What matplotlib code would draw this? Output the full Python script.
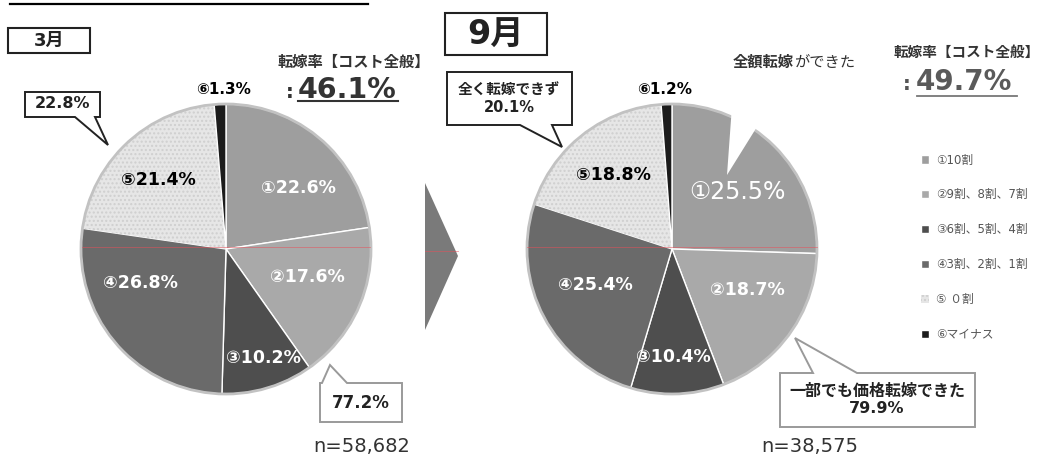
import matplotlib
matplotlib.use("Agg")
import matplotlib.pyplot as plt
from matplotlib.patches import Polygon, Rectangle, Circle

plt.rcParams['font.family'] = ['DejaVu Sans', 'Noto Sans CJK JP']

# data
marks = ['①', '②', '③', '④', '⑤', '⑥']
legend_labels = ['①10割', '②9割、8割、7割', '③6割、5割、4割', '④3割、2割、1割', '⑤ ０割', '⑥マイナス']
march_share = [22.6, 17.6, 10.2, 26.8, 21.4, 1.3]
sept_share = [25.5, 18.7, 10.4, 25.4, 18.8, 1.2]
march_rate = 46.1
sept_rate = 49.7
march_zero = 22.8
march_some = 77.2
sept_zero = 20.1
sept_some = 79.9
march_n = 58682
sept_n = 38575

slice_colors = ['#9e9e9e', '#a9a9a9', '#4e4e4e', '#6a6a6a', '#e6e6e6', '#1c1c1c']
label_colors = ['white', 'white', 'white', 'white', 'black', 'black']

W, H = 1048, 459
fig = plt.figure(figsize=(W / 100, H / 100), dpi=100)

# overlay axes in pixel coordinates for the annotations
ov = fig.add_axes([0, 0, 1, 1])
ov.set_xlim(0, W)
ov.set_ylim(H, 0)
ov.axis('off')
ov.set_zorder(5)
ov.patch.set_alpha(0)

PAD = 1.06


def pie_axes(cx, cy, r):
    ax = fig.add_axes([(cx - r * PAD) / W, 1 - (cy + r * PAD) / H, 2 * r * PAD / W, 2 * r * PAD / H])
    ax.axis('off')
    return ax


def draw_pie(ax, share):
    wedges, _ = ax.pie(share, colors=slice_colors, startangle=90, counterclock=False, radius=1,
                       wedgeprops=dict(edgecolor='white', linewidth=1.0))
    wedges[4].set_hatch('....')
    wedges[4].set_edgecolor('#cfcfcf')
    wedges[4].set_linewidth(0)
    ax.add_patch(Circle((0, 0), 1, fill=False, ec='#c2c2c2', lw=2))
    ax.set_xlim(-PAD, PAD)
    ax.set_ylim(-PAD, PAD)
    return wedges


def callout(x0, y0, x1, y1, b0, b1, tip, side, ec, lw=1.4):
    if side == 'bottom':
        pts = [(x0, y0), (x1, y0), (x1, y1), (b1, y1), tip, (b0, y1), (x0, y1)]
    else:
        pts = [(x0, y0), (b0, y0), tip, (b1, y0), (x1, y0), (x1, y1), (x0, y1)]
    ov.add_patch(Polygon(pts, closed=True, fc='white', ec=ec, lw=lw, zorder=3))


R = 145
ax_l = pie_axes(226, 249, R)
draw_pie(ax_l, march_share)
ax_r = pie_axes(672, 249, R)
wedges_r = draw_pie(ax_r, sept_share)

# white notch cut into slice 1 of the September pie
ov.add_patch(Polygon([(733, 92), (727, 175), (760, 122), (762, 92)], closed=True,
                     fc='white', ec='none', zorder=2))

# faint scan line across the pies
ov.plot([82, 370], [247, 247], color='#e8505a', lw=0.6, alpha=0.6, zorder=2)
ov.plot([425, 458], [251, 251], color='#e8505a', lw=0.6, alpha=0.6, zorder=2.5)
ov.plot([527, 817], [247, 247], color='#e8505a', lw=0.6, alpha=0.6, zorder=2)

# arrow between pies
ov.add_patch(Polygon([(425, 183), (458, 256), (425, 330)], closed=True, fc='#7a7a7a', ec='none', zorder=2))

# top rule and month boxes
ov.plot([10, 368], [4, 4], color='black', lw=1.6)
ov.add_patch(Rectangle((8, 28), 82, 25, fc='white', ec='#222', lw=1.5))
ov.text(49, 41, '3月', ha='center', va='center', fontsize=13, fontweight='bold', color='#222')
ov.add_patch(Rectangle((445, 13), 102, 42, fc='white', ec='#222', lw=1.5))
ov.text(496, 35, '9月', ha='center', va='center', fontsize=24, fontweight='bold', color='#222')

# slice labels
pos_l = [(298, 188), (307, 277), (263, 358), (140, 283), (158, 180), (224, 90)]
pos_r = [(737, 192), (747, 290), (673, 357), (595, 285), (613, 175), (665, 90)]
for i, v in enumerate(march_share):
    x, y = pos_l[i]
    ov.text(x, y, f'{marks[i]}{v}%', ha='center', va='center', fontsize=12.5 if i < 5 else 11,
            fontweight='bold', color=label_colors[i], zorder=4)
for i, v in enumerate(sept_share):
    x, y = pos_r[i]
    big = i == 0
    ov.text(x, y, f'{marks[i]}{v}%', ha='center', va='center', fontsize=17 if big else (12.5 if i < 5 else 11),
            fontweight='normal' if big else 'bold', color=label_colors[i], zorder=4)

# transfer rate headings
ov.text(278, 62, '転嫁率【コスト全般】', ha='left', va='center', fontsize=11, fontweight='bold', color='#333')
ov.text(290, 92, ':', ha='center', va='center', fontsize=14, fontweight='bold', color='#333')
ov.text(298, 90, f'{march_rate}%', ha='left', va='center', fontsize=20.5, fontweight='bold', color='#333')
ov.plot([298, 398], [101, 101], color='#333', lw=1.5)

ov.text(1040, 52, '転嫁率【コスト全般】', ha='right', va='center', fontsize=10.5, fontweight='bold', color='#333')
ov.text(907, 84, ':', ha='center', va='center', fontsize=14, fontweight='bold', color='#555')
ov.text(916, 82, f'{sept_rate}%', ha='left', va='center', fontsize=20, fontweight='bold', color='#5a5a5a')
ov.plot([917, 1017], [96, 96], color='#777', lw=1.3)

ov.text(794, 62, '全額転嫁', ha='right', va='center', fontsize=11, fontweight='bold', color='#333')
ov.text(794, 62, 'ができた', ha='left', va='center', fontsize=11, color='#333')

# callouts
callout(25, 92, 100, 117, 75, 95, (108, 145), 'bottom', '#222')
ov.text(62, 104, f'{march_zero}%', ha='center', va='center', fontsize=11.5, fontweight='bold', color='#222', zorder=4)
callout(320, 383, 402, 422, 322, 347, (330, 365), 'top', '#9a9a9a')
ov.text(361, 403, f'{march_some}%', ha='center', va='center', fontsize=12, fontweight='bold', color='#222', zorder=4)
callout(447, 72, 572, 125, 520, 552, (562, 147), 'bottom', '#222')
ov.text(509, 99, f'全く転嫁できず\n{sept_zero}%', ha='center', va='center', fontsize=10.5, fontweight='bold',
        color='#222', linespacing=1.15, zorder=4)
callout(780, 373, 975, 427, 813, 857, (795, 338), 'top', '#9a9a9a')
ov.text(877, 400, f'一部でも価格転嫁できた\n{sept_some}%', ha='center', va='center', fontsize=11.5,
        fontweight='bold', color='#222', linespacing=1.15, zorder=4)

ov.text(362, 446, f'n={march_n:,}', ha='center', va='center', fontsize=14, color='#333')
ov.text(810, 447, f'n={sept_n:,}', ha='center', va='center', fontsize=14, color='#333')

# legend
leg = ax_r.legend(wedges_r, legend_labels, loc='upper left', bbox_to_anchor=(910 / W, 1 - 143 / H),
                  bbox_transform=fig.transFigure, frameon=False, fontsize=8.5, labelspacing=1.85,
                  handlelength=0.7, handleheight=0.7, handletextpad=0.6)
for t in leg.get_texts():
    t.set_color('#555')

fig.savefig('out.png', dpi=100)
